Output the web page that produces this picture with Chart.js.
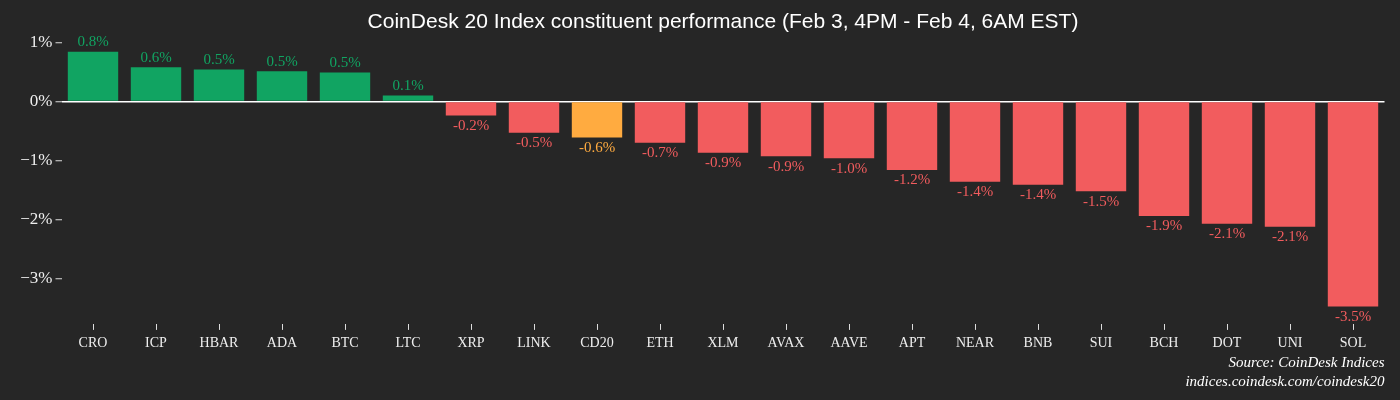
<!DOCTYPE html>
<html>
<head>
<meta charset="utf-8">
<script src="https://cdn.jsdelivr.net/npm/chart.js@4"></script>
<style>
    html, body { margin: 0; padding: 0; background: #262626; }
    #wrap { width: 1400px; height: 400px; }
</style>
</head>
<body>
<div id="wrap"><canvas id="perfChart"></canvas></div>
<script>
// Chart data
const categories = ['CRO', 'ICP', 'HBAR', 'ADA', 'BTC', 'LTC', 'XRP', 'LINK', 'CD20', 'ETH', 'XLM',
    'AVAX', 'AAVE', 'APT', 'NEAR', 'BNB', 'SUI', 'BCH', 'DOT', 'UNI', 'SOL'];
const changes = [0.84, 0.58, 0.54, 0.51, 0.49, 0.1, -0.24, -0.53, -0.61, -0.70, -0.87,
    -0.93, -0.96, -1.16, -1.36, -1.41, -1.52, -1.94, -2.07, -2.12, -3.47];
const yTicks = [1, 0, -1, -2, -3];
const indexName = 'CD20';

const GREEN = '#11a462';
const RED = '#f25c5e';
const ORANGE = '#ffab40';

const barColors = categories.map((c, i) => {
    if (c === indexName) return ORANGE;
    return changes[i] >= 0 ? GREEN : RED;
});

// Value labels above / below each bar
const valueLabels = {
    id: 'valueLabels',
    afterDatasetsDraw(chart) {
        const ctx = chart.ctx;
        const meta = chart.getDatasetMeta(0);
        ctx.save();
        ctx.font = '15px "Liberation Serif"';
        ctx.textAlign = 'center';
        meta.data.forEach((bar, i) => {
            const v = changes[i];
            ctx.fillStyle = barColors[i];
            if (v >= 0) {
                ctx.textBaseline = 'bottom';
                ctx.fillText(v.toFixed(1) + '%', bar.x, bar.y - 2);
            } else {
                ctx.textBaseline = 'top';
                ctx.fillText(v.toFixed(1) + '%', bar.x, bar.y + 3);
            }
        });
        ctx.restore();
    }
};

const bgFill = {
    id: 'bgFill',
    beforeDraw(chart) {
        const ctx = chart.ctx;
        ctx.save();
        ctx.fillStyle = '#262626';
        ctx.fillRect(0, 0, chart.width, chart.height);
        ctx.restore();
    }
};

function initializeChart() {
    const ctx = document.getElementById('perfChart').getContext('2d');
    new Chart(ctx, {
        type: 'bar',
        data: {
            labels: categories,
            datasets: [{
                data: changes,
                backgroundColor: barColors,
                categoryPercentage: 1,
                barPercentage: 0.8
            }]
        },
        options: {
            responsive: true,
            maintainAspectRatio: false,
            animation: false,
            layout: { padding: { left: 0, right: 15.5, top: 0, bottom: 0 } },
            plugins: {
                legend: { display: false },
                tooltip: { enabled: false },
                title: {
                    display: true,
                    text: 'CoinDesk 20 Index constituent performance (Feb 3, 4PM - Feb 4, 6AM EST)',
                    color: '#ffffff',
                    fullSize: false,
                    font: { family: '"Liberation Sans"', size: 21, weight: 'normal', lineHeight: 1.2 },
                    padding: { top: 9.5, bottom: 1.3 }
                },
                subtitle: {
                    display: true,
                    position: 'bottom',
                    align: 'end',
                    fullSize: false,
                    text: ['Source: CoinDesk Indices', 'indices.coindesk.com/coindesk20'],
                    color: '#ffffff',
                    font: { family: '"Liberation Serif"', size: 15, style: 'italic', lineHeight: 1.27 },
                    padding: { top: 0, bottom: 8 }
                }
            },
            scales: {
                x: {
                    offset: true,
                    border: { display: false },
                    grid: {
                        offset: false,
                        drawOnChartArea: false,
                        tickColor: '#dddddd',
                        tickLength: 6,
                        tickWidth: 1
                    },
                    ticks: {
                        color: '#eeeeee',
                        padding: 5,
                        font: { family: '"Liberation Serif"', size: 14 }
                    },
                    afterFit(axis) { axis.height = 30; }
                },
                y: {
                    min: -3.765,
                    max: 1.107,
                    border: { display: false },
                    grid: {
                        color: c => (c.tick && c.tick.value === 0) ? '#ffffff' : 'transparent',
                        lineWidth: 1.5,
                        tickColor: '#dddddd',
                        tickLength: 6,
                        tickWidth: 1
                    },
                    ticks: {
                        color: '#eeeeee',
                        padding: 3,
                        font: { family: '"Liberation Serif"', size: 17 },
                        callback: v => (v < 0 ? '\u2212' + Math.abs(v) : v) + '%'
                    },
                    afterBuildTicks(axis) {
                        axis.ticks = yTicks.map(v => ({ value: v }));
                    },
                    afterFit(axis) { axis.width = 61.5; }
                }
            }
        },
        plugins: [bgFill, valueLabels]
    });
}

document.addEventListener('DOMContentLoaded', initializeChart);
</script>
</body>
</html>
